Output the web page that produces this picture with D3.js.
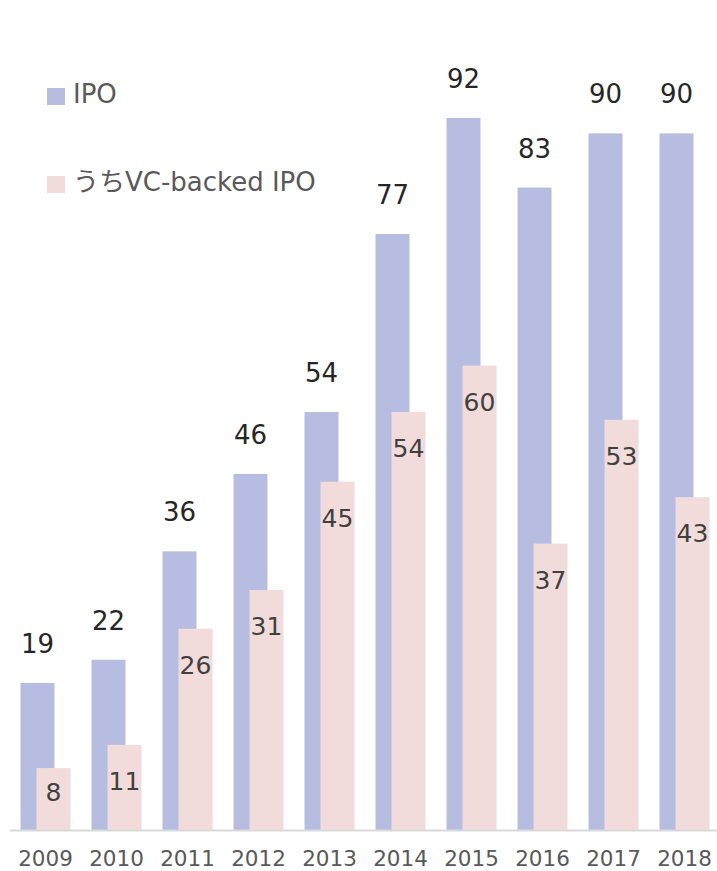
<!DOCTYPE html>
<html>
<head>
<meta charset="utf-8">
<script src="https://cdn.jsdelivr.net/npm/d3@7"></script>
<style>
  body { margin: 0; background: #fff; }
  svg { display: block; font-family: "DejaVu Sans", "Noto Sans CJK JP", sans-serif; }
</style>
</head>
<body>
<script>
const years = ["2009", "2010", "2011", "2012", "2013", "2014", "2015", "2016", "2017", "2018"];
const ipo = [19, 22, 36, 46, 54, 77, 92, 83, 90, 90];
const vcBacked = [8, 11, 26, 31, 45, 54, 60, 37, 53, 43];
const seriesNames = ["IPO", "うちVC-backed IPO"];
const colors = ["#b7bde0", "#f2dcdb"];

const width = 717;
const height = 871;
const baseY = 830;

const svg = d3.select("body")
  .append("svg")
  .attr("width", width)
  .attr("height", height);

const x = d3.scaleBand()
  .domain(years)
  .range([10, 720])
  .padding(0);

const y = d3.scaleLinear()
  .domain([0, 100])
  .range([baseY, 56]);

const barW = 34;
const data = years.map((yr, i) => ({ year: yr, ipo: ipo[i], vc: vcBacked[i] }));

// IPO bars (behind)
svg.selectAll("rect.ipo")
  .data(data)
  .enter()
  .append("rect")
  .attr("class", "ipo")
  .attr("x", d => x(d.year) + x.bandwidth() / 2 - 25)
  .attr("y", d => y(d.ipo))
  .attr("width", barW)
  .attr("height", d => baseY - y(d.ipo))
  .attr("fill", colors[0]);

// VC-backed bars, shifted right and overlapping
svg.selectAll("rect.vc")
  .data(data)
  .enter()
  .append("rect")
  .attr("class", "vc")
  .attr("x", d => x(d.year) + x.bandwidth() / 2 - 9)
  .attr("y", d => y(d.vc))
  .attr("width", barW)
  .attr("height", d => baseY - y(d.vc))
  .attr("fill", colors[1]);

// axis line
svg.append("line")
  .attr("x1", 10)
  .attr("x2", 717)
  .attr("y1", baseY + 0.5)
  .attr("y2", baseY + 0.5)
  .attr("stroke", "#d9d9d9")
  .attr("stroke-width", 2);

// year labels
svg.selectAll("text.year")
  .data(years)
  .enter()
  .append("text")
  .attr("class", "year")
  .attr("x", d => x(d) + x.bandwidth() / 2)
  .attr("y", 866)
  .attr("text-anchor", "middle")
  .attr("font-size", 21.5)
  .attr("fill", "#595959")
  .text(d => d);

// IPO value labels above bars
svg.selectAll("text.ipo-label")
  .data(data)
  .enter()
  .append("text")
  .attr("class", "ipo-label")
  .attr("x", d => x(d.year) + x.bandwidth() / 2 - 25 + barW / 2)
  .attr("y", d => y(d.ipo) - 30)
  .attr("text-anchor", "middle")
  .attr("font-size", 26)
  .attr("fill", "#262626")
  .text(d => d.ipo);

// VC value labels inside bars
svg.selectAll("text.vc-label")
  .data(data)
  .enter()
  .append("text")
  .attr("class", "vc-label")
  .attr("x", d => x(d.year) + x.bandwidth() / 2 - 9 + barW / 2)
  .attr("y", d => Math.min(y(d.vc) + 36, baseY - 38))
  .attr("dy", "0.36em")
  .attr("text-anchor", "middle")
  .attr("font-size", 25)
  .attr("fill", "#404040")
  .text(d => d.vc);

// legend
const legend = svg.selectAll("g.legend")
  .data(seriesNames)
  .enter()
  .append("g")
  .attr("class", "legend")
  .attr("transform", (d, i) => "translate(47," + (88 + i * 88) + ")");

legend.append("rect")
  .attr("width", 18)
  .attr("height", 17)
  .attr("fill", (d, i) => colors[i]);

legend.append("text")
  .attr("x", 26)
  .attr("y", 15)
  .attr("font-size", 26)
  .attr("fill", "#595959")
  .text(d => d);
</script>
</body>
</html>
